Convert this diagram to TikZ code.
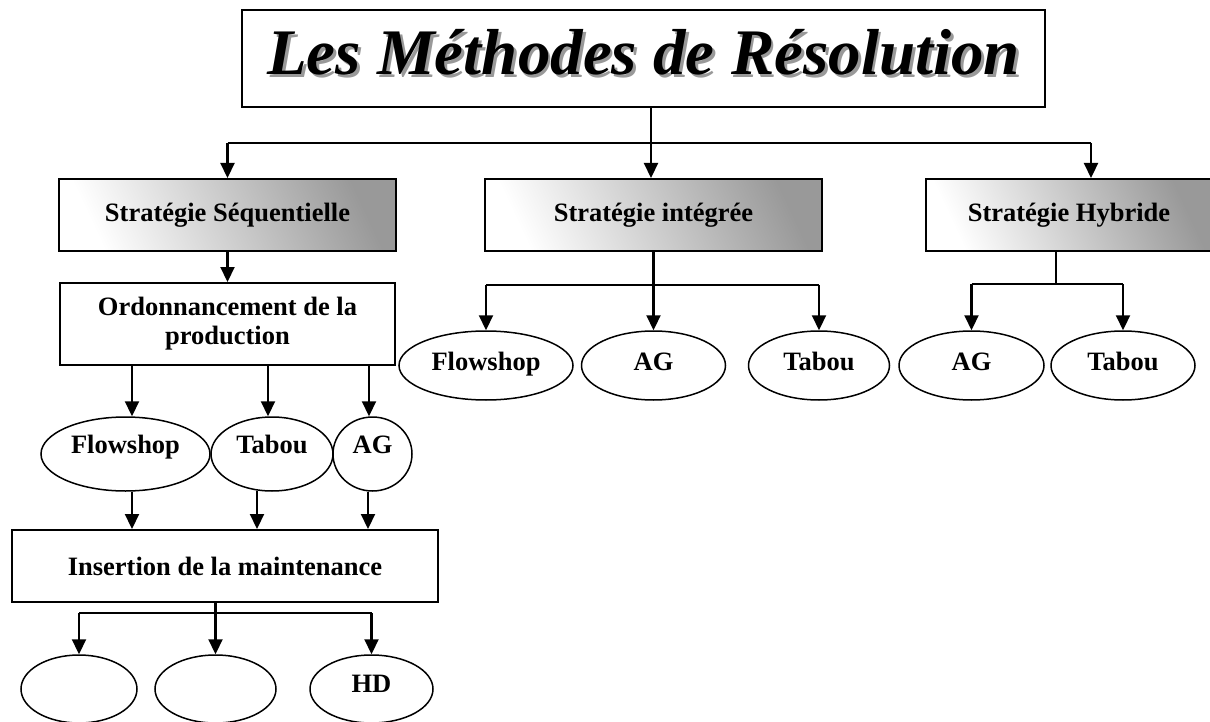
\documentclass[tikz,border=0pt]{standalone}
\usepackage{fontspec}
\setmainfont{Liberation Serif}
\usetikzlibrary{arrows.meta,shapes.geometric}
\newcommand\lblfont{\fontsize{26.5}{29}\selectfont\bfseries}
\newcommand\ttlfont{\fontsize{65}{70}\selectfont\bfseries\itshape}
\newcommand\shadowed[1]{\rlap{\kern3pt\raisebox{-3pt}{\textcolor{black!40}{#1}}}#1}
\begin{document}
\begin{tikzpicture}[x=1pt,y=-1pt,
  link/.style={line width=2.2pt},
  conn/.style={line width=2.2pt,-{Triangle[width=14pt,length=15pt]}},
  titlebox/.style={draw,line width=1.6pt,inner sep=0pt,minimum width=803pt,minimum height=97pt},
  stratbox/.style={draw,line width=2pt,inner sep=0pt,minimum width=337pt,minimum height=72pt,
     left color=white,right color=black!40,shading angle=115,font=\lblfont},
  plainbox/.style={draw,line width=2pt,fill=white,inner sep=0pt,align=center,font=\lblfont},
  ell/.style={draw,ellipse,line width=1.5pt,inner sep=0pt,font=\lblfont},
  rowA/.style={ell,minimum height=74pt,text height=0pt,text depth=2pt},
  rowB/.style={ell,minimum height=69pt,text height=9pt,text depth=0pt},
  rowC/.style={ell,minimum height=68pt,text height=6pt,text depth=0pt}
]
\useasboundingbox (0,0) rectangle (1210,722);

% title
\node[titlebox] (title) at (643.5,58.5) {};
\node[font=\ttlfont] (ttext) at (643.5,54) {\shadowed{Les Méthodes de Résolution}};

% strategies
\node[stratbox] (s1) at (227.5,215) {Stratégie Séquentielle};
\node[stratbox] (s2) at (653.5,215) {Stratégie intégrée};
\node[stratbox,minimum width=286pt] (s3) at (1069,215) {Stratégie Hybride};

\coordinate (j1) at (651,143);
\draw[link] ([xshift=7.5pt]title.south) -- (j1);
\draw[link] (s1.north |- j1) -- ([xshift=22pt]s3.north |- j1);
\draw[conn] (s1.north |- j1) -- (s1.north);
\draw[conn] (j1) -- (j1 |- s2.north);
\draw[conn] ([xshift=22pt]s3.north |- j1) -- ([xshift=22pt]s3.north);

% sequential branch
\node[plainbox,minimum width=335pt,minimum height=82pt] (ordo) at (227.5,324) {Ordonnancement de la\\production};
\draw[conn] (s1.south) -- (ordo.north);

\node[rowA,minimum width=169pt] (f1) at (125.5,454) {Flowshop};
\node[rowA,minimum width=122pt] (f2) at (272,454) {Tabou};
\node[rowA,minimum width=79pt] (f3) at (372.5,454) {AG};

\draw[conn] ([xshift=6.5pt]f1.north |- ordo.south) -- ([xshift=6.5pt]f1.north);
\draw[conn] ([xshift=-4pt]f2.north |- ordo.south) -- ([xshift=-4pt]f2.north);
\draw[conn] ([xshift=-3.5pt]f3.north |- ordo.south) -- ([xshift=-3.5pt]f3.north);

\node[plainbox,minimum width=426pt,minimum height=72pt] (ins) at (225,566) {Insertion de la maintenance};

\draw[conn] ([xshift=6.5pt]f1.south) -- ([xshift=6.5pt]f1.south |- ins.north);
\draw[conn] ([xshift=-15pt,yshift=1pt]f2.south) -- ([xshift=-15pt]f2.south |- ins.north);
\draw[conn] ([xshift=-4.5pt]f3.south) -- ([xshift=-4.5pt]f3.south |- ins.north);

\node[rowC,minimum width=116pt] (b1) at (79,689) {};
\node[rowC,minimum width=121pt] (b2) at (215.5,689) {};
\node[rowC,minimum width=123pt] (b3) at (371.5,689) {HD};

\coordinate (j3) at (215.5,613);
\draw[link] ([xshift=-9.5pt]ins.south) -- (j3);
\draw[link] (b1.north |- j3) -- (b3.north |- j3);
\draw[conn] (b1.north |- j3) -- (b1.north);
\draw[conn] (j3) -- (b2.north);
\draw[conn] (b3.north |- j3) -- (b3.north);

% integrated branch
\node[rowB,minimum width=174pt] (m1) at (486,365.5) {Flowshop};
\node[rowB,minimum width=144pt] (m2) at (653.5,365.5) {AG};
\node[rowB,minimum width=141pt] (m3) at (819,365.5) {Tabou};

\coordinate (j2) at (653.5,285);
\draw[link] (s2.south) -- (j2);
\draw[link] (m1.north |- j2) -- (m3.north |- j2);
\draw[conn] (m1.north |- j2) -- (m1.north);
\draw[conn] (j2) -- (m2.north);
\draw[conn] (m3.north |- j2) -- (m3.north);

% hybrid branch
\node[rowB,minimum width=145pt] (r1) at (971.5,365.5) {AG};
\node[rowB,minimum width=144pt] (r2) at (1123,365.5) {Tabou};

\coordinate (j4) at (1056,284);
\draw[link] (s3.south -| j4) -- (j4);
\draw[link] (r1.north |- j4) -- (r2.north |- j4);
\draw[conn] (r1.north |- j4) -- (r1.north);
\draw[conn] (r2.north |- j4) -- (r2.north);
\end{tikzpicture}
\end{document}
